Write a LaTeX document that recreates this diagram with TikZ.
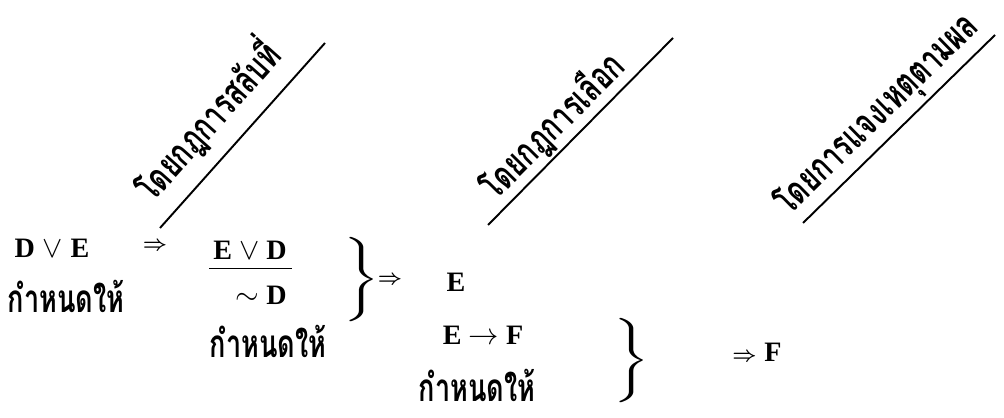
\documentclass[tikz,border=0pt]{standalone}
\usepackage{amsmath, amssymb}
\usepackage{graphicx}
\usepackage{fontspec}
\setmainfont{Liberation Serif}
\newfontfamily\thaifont[Script=Thai]{Loma}
\newcommand{\narrowthai}[1]{\scalebox{0.7}[1]{#1}}
\usetikzlibrary{positioning}

\begin{document}
\begin{tikzpicture}[
        x=0.02cm, y=-0.02cm,
        term/.style={font=\fontsize{16}{18}\selectfont\bfseries, inner sep=1pt},
        thai/.style={font=\thaifont\bfseries\fontsize{22}{24}\selectfont, inner sep=1pt},
        impl/.style={font=\fontsize{12}{14}\selectfont\boldmath, inner sep=1pt},
        ruleline/.style={line width=1.1pt},
        rulelabel/.style={font=\thaifont\bfseries\fontsize{22}{24}\selectfont,
                          sloped, above, midway},
        bracenode/.style={font=\fontsize{16}{18}\selectfont, inner sep=0pt}
    ]
    \useasboundingbox (0,0) rectangle (1004,418);

    % Diagonal rule lines with their names
    \coordinate (ra) at (160,228); \coordinate (rb) at (325,43);
    \coordinate (sa) at (488,225); \coordinate (sb) at (673,38);
    \coordinate (ta) at (803,223); \coordinate (tb) at (995,35);
    \draw[ruleline] (ra)--(rb) node[rulelabel, pos=0.45, inner sep=7pt]
        {\narrowthai{โดยกฎการสลับที่}};
    \draw[ruleline] (sa)--(sb) node[rulelabel, pos=0.44, inner sep=1pt]
        {\narrowthai{โดยกฎการเลือก}};
    \draw[ruleline] (ta)--(tb) node[rulelabel, pos=0.48, inner sep=2pt]
        {\narrowthai{โดยการแจงเหตุตามผล}};

    % Column 1
    \node[term] (dve) at (52,248) {D\;$\vee$\;E};
    \node[thai] (gv1) at (66,296) {\narrowthai{กำหนดให้}};
    \node[impl] (im1) at (155,246) {$\Rightarrow$};

    % Column 2
    \node[term] (evd) at (250,250) {E $\vee$ D};
    \draw[line width=0.8pt] ([xshift=-1pt, yshift=-4pt]evd.south west)
        -- ([xshift=2pt, yshift=-4pt]evd.south east);
    \node[term, anchor=east] (ngd) at (evd.east |- 0,295) {$\sim$ D};
    \node[thai] (gv2) at (268,341) {\narrowthai{กำหนดให้}};
    \node[bracenode] (br1) at (360,280)
        {\scalebox{1.6}[1]{$\left.\vphantom{\rule{0pt}{0.94cm}}\right\}$}};
    \node[impl] (im2) at (390,280) {$\Rightarrow$};

    % Column 3
    \node[term] (ee) at (456,282) {E};
    \node[term] (etf) at (483,335) {E $\rightarrow$ F};
    \node[thai] (gv3) at (477,385) {\narrowthai{กำหนดให้}};
    \node[bracenode] (br2) at (630,361)
        {\scalebox{1.6}[1]{$\left.\vphantom{\rule{0pt}{0.94cm}}\right\}$}};

    % Result
    \node[term] (ff) at (757,352) {{\fontsize{12}{14}\selectfont\boldmath$\Rightarrow$}\;F};
\end{tikzpicture}
\end{document}
